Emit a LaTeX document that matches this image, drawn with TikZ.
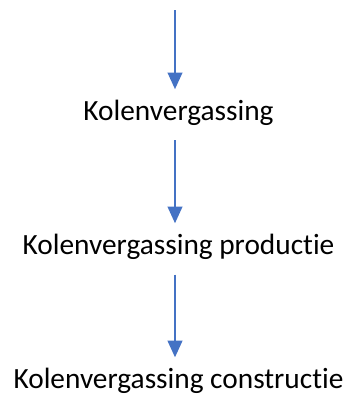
\documentclass[tikz,border=0pt]{standalone}
\usepackage{fontspec}
\setmainfont{Carlito}[Ligatures={NoCommon,NoRare,NoDiscretionary}]
\usetikzlibrary{positioning, arrows.meta}

\definecolor{flowblue}{RGB}{68,114,196}

\tikzset{
	stage/.style={inner sep=0pt, font=\fontsize{22}{26}\selectfont},
	flow/.style={draw=flowblue, line width=1.5pt,
		-{Triangle[length=12.5pt,width=11pt]}, shorten <=11pt, shorten >=8pt}
}

\begin{document}
\begin{tikzpicture}[x=0.75pt, y=-0.75pt, node distance=2.85cm]
		\useasboundingbox (0,0) rectangle (349,400);
		
		\coordinate (top) at (175,10);
		
		\node[stage, anchor=base] (k1) at (178.5,120.5) {Kolenvergassing};
		\node[stage, below = of k1] (k2) {Kolenvergassing productie};
		\node[stage, below = of k2] (k3) {Kolenvergassing constructie};
		
		\draw[flow, shorten <=0pt] (top) -- (top |- k1.north);
		\draw[flow] (k1.south -| top) -- (k2.north -| top);
		\draw[flow] (k2.south -| top) -- (k3.north -| top);
		
	\end{tikzpicture}
\end{document}
